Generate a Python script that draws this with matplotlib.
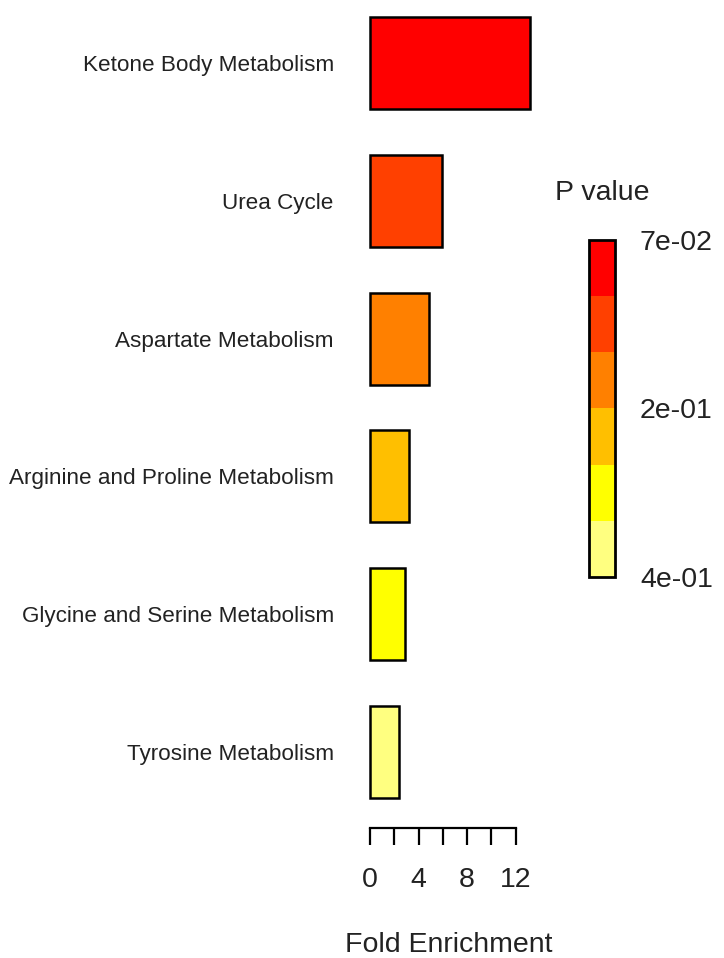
import numpy as np
import matplotlib.pyplot as plt
from matplotlib.colors import ListedColormap, BoundaryNorm
from matplotlib.colorbar import ColorbarBase

plt.rcParams['font.family'] = ['Liberation Sans', 'DejaVu Sans']

pathways = ['Ketone Body Metabolism', 'Urea Cycle', 'Aspartate Metabolism',
            'Arginine and Proline Metabolism', 'Glycine and Serine Metabolism',
            'Tyrosine Metabolism']
fold_enrichment = [13.2, 5.95, 4.85, 3.25, 2.9, 2.4]
p_rank = [0, 1, 2, 3, 4, 5]   # position on the p value scale (top = smallest)
heat_colors = ['#FF0000', '#FF4000', '#FF8000', '#FFBF00', '#FFFF00', '#FFFF80']
cbar_ticks = ['7e-02', '2e-01', '4e-01']

fig = plt.figure(figsize=(7.24, 9.58), dpi=100)
ax = fig.add_axes([0.5110, 0.1670, 0.2265, 0.8152])

y = np.arange(len(pathways))
bars = ax.barh(y, fold_enrichment, height=0.667, color=[heat_colors[r] for r in p_rank],
               edgecolor='black', linewidth=1.8, left=0)
for b in bars:
    b.set_clip_on(False)
ax.set_ylim(len(pathways) - 1 + 0.3335, -0.3335)
ax.set_xlim(0, 13.5)
ax.set_yticks(y)
ax.set_yticklabels(pathways, fontsize=16.2, color='#222222')
ax.tick_params(axis='y', length=0, pad=26)

for s in ['top', 'right', 'left']:
    ax.spines[s].set_visible(False)
ax.spines['bottom'].set_position(('outward', 21.5))
ax.spines['bottom'].set_bounds(0, 12)
ax.spines['bottom'].set_linewidth(1.6)
ax.set_xticks([0, 4, 8, 12])
ax.set_xticks([2, 6, 10], minor=True)
ax.tick_params(axis='x', which='both', direction='out', length=12, width=1.6, pad=16)
ax.tick_params(axis='x', labelsize=20.5, labelcolor='#222222')

fig.text(0.620, 1 - 945 / 958, 'Fold Enrichment', fontsize=20.5, color='#222222',
         ha='center', va='center')

cax = fig.add_axes([0.8135, 0.3977, 0.0359, 0.3518])
cmap = ListedColormap(heat_colors[::-1])
norm = BoundaryNorm(np.arange(len(heat_colors) + 1), cmap.N)
cb = ColorbarBase(cax, cmap=cmap, norm=norm, orientation='vertical')
cb.outline.set_linewidth(2)
cb.set_ticks([6, 3, 0])
cb.set_ticklabels(cbar_ticks)
cax.minorticks_off()
cax.tick_params(which='both', length=0, pad=18, labelsize=20.5, labelcolor='#222222')
fig.text(0.832, 1 - 193 / 958, 'P value', fontsize=20.5, color='#222222',
         ha='center', va='center')

fig.savefig('out.png', dpi=100)
